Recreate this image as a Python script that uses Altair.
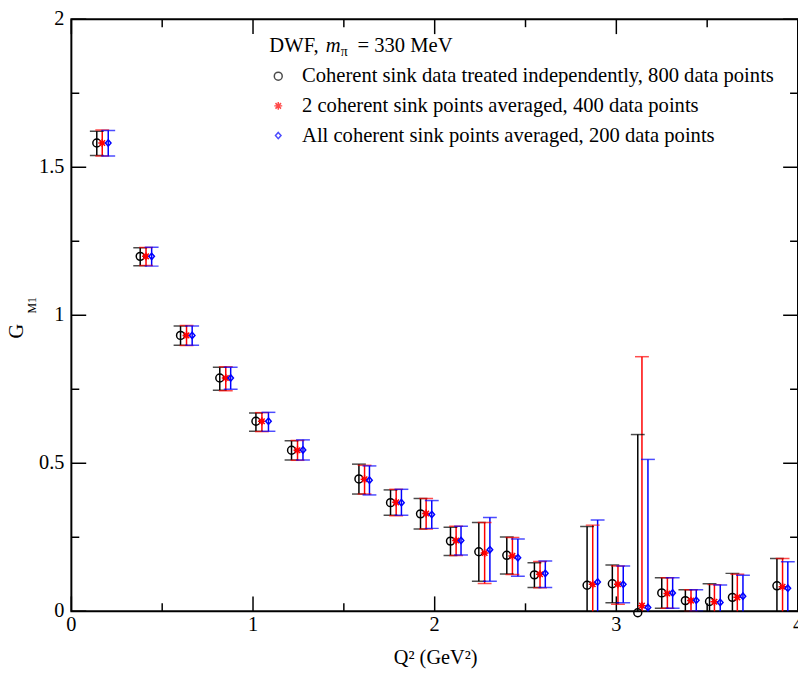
import altair as alt
import pandas as pd

# ---------------- data ----------------
series_names = [
    "Coherent sink data treated independently, 800 data points",
    "2 coherent sink points averaged, 400 data points",
    "All coherent sink points averaged, 200 data points",
]
series_colors = ["#000000", "#ff0000", "#0000ff"]
series_shapes = [
    "circle",
    "M-1,0L1,0M0,-1L0,1M-0.7,-0.7L0.7,0.7M-0.7,0.7L0.7,-0.7",
    "M0,-0.8L0.7,0L0,0.8L-0.7,0Z",
]

x_black = [0.140, 0.379, 0.601, 0.817, 1.016, 1.212, 1.583, 1.757, 1.922, 2.087, 2.243,
           2.397, 2.549, 2.839, 2.978, 3.118, 3.250, 3.380, 3.513, 3.639, 3.884]
y_black = [1.582, 1.199, 0.932, 0.788, 0.642, 0.544, 0.447, 0.367, 0.329, 0.237, 0.201,
           0.189, 0.123, 0.088, 0.093, -0.005, 0.062, 0.036, 0.033, 0.047, 0.086]
hi_black = [1.622, 1.228, 0.964, 0.824, 0.670, 0.576, 0.497, 0.410, 0.381, 0.284, 0.300,
            0.251, 0.164, 0.286, 0.156, 0.597, 0.113, 0.073, 0.093, 0.128, 0.178]
lo_black = [1.540, 1.167, 0.899, 0.747, 0.608, 0.511, 0.396, 0.324, 0.278, 0.188, 0.101,
            0.126, 0.080, -0.110, 0.029, -0.607, 0.010, -0.001, -0.027, -0.034, -0.006]

x_red = [0.170, 0.411, 0.634, 0.850, 1.049, 1.245, 1.614, 1.788, 1.953, 2.118, 2.275,
         2.428, 2.580, 2.870, 3.009, 3.141, 3.281, 3.411, 3.540, 3.666, 3.915]
y_red = [1.582, 1.199, 0.932, 0.788, 0.642, 0.544, 0.446, 0.368, 0.330, 0.239, 0.197,
         0.187, 0.125, 0.091, 0.091, 0.019, 0.060, 0.036, 0.032, 0.047, 0.083]
hi_red = [1.626, 1.229, 0.965, 0.826, 0.671, 0.577, 0.493, 0.412, 0.381, 0.287, 0.300,
          0.249, 0.168, 0.291, 0.153, 0.860, 0.113, 0.073, 0.090, 0.125, 0.178]
lo_red = [1.538, 1.168, 0.898, 0.745, 0.607, 0.510, 0.396, 0.323, 0.278, 0.188, 0.094,
          0.124, 0.079, -0.109, 0.024, -0.822, 0.010, -0.001, -0.026, -0.031, -0.012]

x_blue = [0.203, 0.442, 0.665, 0.877, 1.085, 1.275, 1.641, 1.817, 1.984, 2.145, 2.304,
          2.458, 2.609, 2.897, 3.038, 3.174, 3.310, 3.440, 3.572, 3.697, 3.944]
y_blue = [1.582, 1.199, 0.932, 0.788, 0.642, 0.545, 0.443, 0.367, 0.327, 0.239, 0.208,
          0.181, 0.128, 0.099, 0.091, 0.013, 0.062, 0.037, 0.030, 0.051, 0.078]
hi_blue = [1.624, 1.230, 0.964, 0.824, 0.672, 0.579, 0.491, 0.412, 0.374, 0.287, 0.317,
           0.244, 0.170, 0.308, 0.153, 0.513, 0.113, 0.073, 0.089, 0.122, 0.167]
lo_blue = [1.538, 1.166, 0.899, 0.750, 0.608, 0.511, 0.393, 0.324, 0.280, 0.190, 0.101,
           0.118, 0.080, -0.110, 0.029, -0.487, 0.010, 0.000, -0.029, -0.020, -0.011]

x_major_ticks = [0, 1, 2, 3, 4]
x_minor_ticks = [0.5, 1.5, 2.5, 3.5]
y_major_ticks = [0, 0.5, 1, 1.5, 2]
y_minor_ticks = [0.25, 0.75, 1.25, 1.75]
x_tick_labels = ["0", "1", "2", "3", "4"]
y_tick_labels = ["0", "0.5", "1", "1.5", "2"]

x_title = "Q² (GeV²)"
y_title_main = "G"
y_title_sub = "M1"
header_parts = ["DWF,", "m", "π", "= 330 MeV"]

# ---------------- table ----------------
rows = []
for name, xs_, ys_, his_, los_ in [
    (series_names[0], x_black, y_black, hi_black, lo_black),
    (series_names[1], x_red, y_red, hi_red, lo_red),
    (series_names[2], x_blue, y_blue, hi_blue, lo_blue),
]:
    for a, b, c, d in zip(xs_, ys_, his_, los_):
        rows.append({"series": name, "x": a, "y": b, "hi": c, "lo": d})
df = pd.DataFrame(rows)

W, H = 734, 598
X0, X1, Y0, Y1 = 0, 4, 0, 2
FONT = "Liberation Serif"
FS = 20.5
LFS = 20.8
MAJOR, MINOR = 15, 8          # tick lengths in px
PX_X = (X1 - X0) / W          # data units per px
PX_Y = (Y1 - Y0) / H

xscale = alt.Scale(domain=[X0, X1], nice=False, zero=False)
yscale = alt.Scale(domain=[Y0, Y1], nice=False, zero=False)
cscale = alt.Scale(domain=series_names, range=series_colors)
sscale = alt.Scale(domain=series_names, range=series_shapes)
color_enc = alt.Color("series:N", scale=cscale, legend=None)

X = lambda f: alt.X(f, scale=xscale, axis=None)
Y = lambda f: alt.Y(f, scale=yscale, axis=None)

base = alt.Chart(df)

rules = base.mark_rule(strokeWidth=1.5, clip=True).encode(
    x=X("x:Q"), y=Y("lo:Q"), y2="hi:Q", color=color_enc)
caps_hi = base.mark_tick(orient="horizontal", size=14, thickness=1.5, clip=True).encode(
    x=X("x:Q"), y=Y("hi:Q"), color=color_enc)
caps_lo = base.mark_tick(orient="horizontal", size=14, thickness=1.5, clip=True).encode(
    x=X("x:Q"), y=Y("lo:Q"), color=color_enc)
points = base.mark_point(filled=False, size=64, strokeWidth=1.5, opacity=1).encode(
    x=X("x:Q"), y=Y("y:Q"), color=color_enc,
    shape=alt.Shape("series:N", scale=sscale, legend=None),
)

# inward frame ticks on all four sides, drawn as tick marks centred half a length inside
tick_layers = []
for vals, length in [(x_major_ticks, MAJOR), (x_minor_ticks, MINOR)]:
    td = pd.DataFrame(
        [{"x": v, "y": Y0 + length / 2 * PX_Y} for v in vals]
        + [{"x": v, "y": Y1 - length / 2 * PX_Y} for v in vals]
    )
    tick_layers.append(alt.Chart(td).mark_tick(
        orient="vertical", size=length, thickness=1.5, color="black", opacity=1
    ).encode(x=X("x:Q"), y=Y("y:Q")))
for vals, length in [(y_major_ticks, MAJOR), (y_minor_ticks, MINOR)]:
    td = pd.DataFrame(
        [{"y": v, "x": X0 + length / 2 * PX_X} for v in vals]
        + [{"y": v, "x": X1 - length / 2 * PX_X} for v in vals]
    )
    tick_layers.append(alt.Chart(td).mark_tick(
        orient="horizontal", size=length, thickness=1.5, color="black", opacity=1
    ).encode(x=X("x:Q"), y=Y("y:Q")))

# tick labels, positioned through the scales
x_lab = alt.Chart(pd.DataFrame({"v": x_major_ticks, "t": x_tick_labels})).mark_text(
    font=FONT, fontSize=FS, align="center", baseline="top", color="black"
).encode(x=X("v:Q"), y=alt.value(H + 4), text="t:N")
y_lab = alt.Chart(pd.DataFrame({"v": y_major_ticks, "t": y_tick_labels})).mark_text(
    font=FONT, fontSize=FS, align="right", baseline="middle", color="black"
).encode(y=Y("v:Q"), x=alt.value(-7), text="t:N")

one = pd.DataFrame({"k": [0]})

x_tit = alt.Chart(one).mark_text(
    text=x_title, font=FONT, fontSize=FS, align="center", baseline="top", color="black"
).encode(x=alt.value(W / 2 + 1), y=alt.value(H + 37))

y_tit_g = alt.Chart(one).mark_text(
    text=y_title_main, font=FONT, fontSize=FS, align="center", baseline="middle", color="black",
).encode(x=alt.value(-54.5), y=alt.value(315), angle=alt.value(270))
y_tit_s = alt.Chart(one).mark_text(
    text=y_title_sub, font=FONT, fontSize=12, align="center", baseline="middle", color="black",
).encode(x=alt.value(-40), y=alt.value(289), angle=alt.value(270))

# legend header
hy = 33
h1 = alt.Chart(one).mark_text(
    text=header_parts[0], font=FONT, fontSize=LFS, align="left", baseline="alphabetic", color="black"
).encode(x=alt.value(200), y=alt.value(hy))
h2 = alt.Chart(one).mark_text(
    text=header_parts[1], font=FONT, fontSize=LFS, fontStyle="italic", align="left",
    baseline="alphabetic", color="black"
).encode(x=alt.value(257), y=alt.value(hy))
h3 = alt.Chart(one).mark_text(
    text=header_parts[2], font=FONT, fontSize=14, align="left", baseline="alphabetic", color="black"
).encode(x=alt.value(272), y=alt.value(hy + 4))
h4 = alt.Chart(one).mark_text(
    text=header_parts[3], font=FONT, fontSize=LFS, align="left", baseline="alphabetic", color="black"
).encode(x=alt.value(289), y=alt.value(hy))

# legend entries
legend_layers = []
row_y = [57.5, 87.5, 117.5]
for i, name in enumerate(series_names):
    ld = pd.DataFrame({"series": [name]})
    legend_layers.append(
        alt.Chart(ld).mark_point(filled=False, size=64, strokeWidth=1.5).encode(
            x=alt.value(209), y=alt.value(row_y[i]),
            color=color_enc,
            shape=alt.Shape("series:N", scale=sscale, legend=None),
        )
    )
    legend_layers.append(
        alt.Chart(ld).mark_text(
            font=FONT, fontSize=LFS, align="left", baseline="middle", color="black"
        ).encode(x=alt.value(233), y=alt.value(row_y[i]), text="series:N")
    )

chart = alt.layer(
    *tick_layers, rules, caps_hi, caps_lo, points,
    x_lab, y_lab, x_tit, y_tit_g, y_tit_s, h1, h2, h3, h4, *legend_layers
).properties(
    width=W, height=H,
    autosize=alt.AutoSizeParams(type="none"),
    padding={"left": 64, "top": 8, "right": 0, "bottom": 59},
    background="white",
).configure_view(
    stroke="black", strokeWidth=2, fill="white"
)

chart.save("out.html", embed_options={"renderer": "svg", "actions": False})
